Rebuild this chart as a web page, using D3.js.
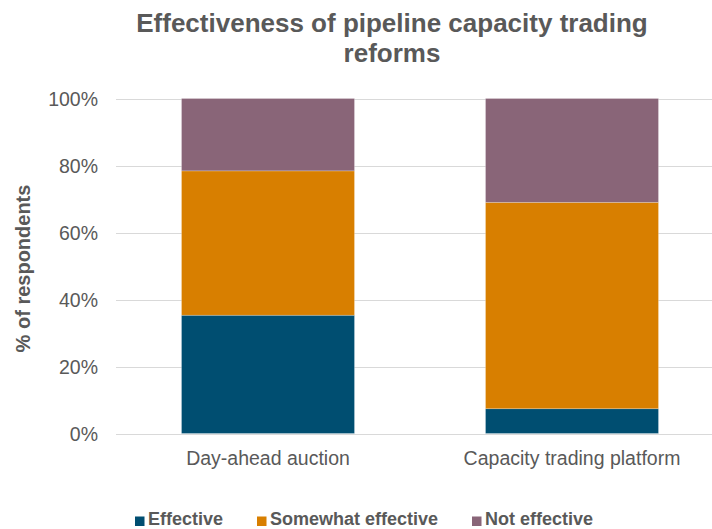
<!DOCTYPE html>
<html><head><meta charset="utf-8">
<script src="https://cdn.jsdelivr.net/npm/d3@7"></script>
<style>body{margin:0;background:#fff;}svg{display:block;font-family:"Liberation Sans",Arial,sans-serif;}</style>
</head><body>
<svg id="c" width="712" height="529"></svg>
<script>
const categories = ["Day-ahead auction", "Capacity trading platform"];
const seriesNames = ["Effective", "Somewhat effective", "Not effective"];
const effective = [0.353, 0.074];
const somewhat = [0.431, 0.616];
const notEffective = [0.216, 0.310];
const colors = ["#004e71", "#d87f00", "#896578"];
const yTicks = [0, 0.2, 0.4, 0.6, 0.8, 1.0];

const svg = d3.select("#c");
const x = d3.scaleBand().domain(categories).range([116, 724]).paddingInner(0.431).paddingOuter(0.2155);
const y = d3.scaleLinear().domain([0, 1]).range([433.5, 98.5]);

// gridlines
svg.append("g").selectAll("line").data(yTicks).join("line")
  .attr("x1", 116).attr("x2", 724)
  .attr("y1", d => Math.round(y(d)) + 0.5).attr("y2", d => Math.round(y(d)) + 0.5)
  .attr("stroke", "#d9d9d9").attr("stroke-width", 1);

const rows = categories.map((c, i) => ({cat: c, "Effective": effective[i], "Somewhat effective": somewhat[i], "Not effective": notEffective[i]}));
const stacked = d3.stack().keys(seriesNames)(rows);

svg.append("g").selectAll("g").data(stacked).join("g")
  .attr("fill", (d, i) => colors[i])
  .selectAll("rect").data(d => d).join("rect")
  .attr("x", d => x(d.data.cat))
  .attr("width", x.bandwidth())
  .attr("y", d => y(d[1]))
  .attr("height", d => y(d[0]) - y(d[1]))
  .attr("stroke", "#ffffff").attr("stroke-opacity", 0.3).attr("stroke-width", 0.75);

// y axis labels
const yAxis = d3.axisLeft(y).tickValues(yTicks).tickFormat(d3.format(".0%")).tickSize(0).tickPadding(0);
const ya = svg.append("g").attr("transform", "translate(98,0)").call(yAxis);
ya.select(".domain").remove();
ya.selectAll("text").attr("font-size", 19.5).attr("fill", "#595959").attr("font-family", "Liberation Sans, Arial, sans-serif").attr("dy", "0.36em");

// x axis labels
const xAxis = d3.axisBottom(x).tickSize(0).tickPadding(0);
const xa = svg.append("g").attr("transform", "translate(0,0)").call(xAxis);
xa.select(".domain").remove();
xa.selectAll("text").attr("y", 465).attr("dy", null).attr("font-size", 19.5).attr("fill", "#595959").attr("font-family", "Liberation Sans, Arial, sans-serif");

// y axis title
svg.append("text").attr("transform", "translate(29.5,268.5) rotate(-90)")
  .attr("text-anchor", "middle").attr("font-size", 20).attr("font-weight", "bold").attr("fill", "#595959")
  .text("% of respondents");

// title
const title = svg.append("text").attr("text-anchor", "middle").attr("font-size", 26).attr("font-weight", "bold").attr("fill", "#595959");
title.append("tspan").attr("x", 392).attr("y", 32).text("Effectiveness of pipeline capacity trading");
title.append("tspan").attr("x", 392).attr("y", 62).text("reforms");

// legend
const legendX = [135, 257, 472];
const lg = svg.append("g").selectAll("g").data(seriesNames).join("g")
  .attr("transform", (d, i) => `translate(${legendX[i]},0)`);
lg.append("rect").attr("x", 0).attr("y", 516.5).attr("width", 9.5).attr("height", 9.5).attr("fill", (d, i) => colors[i]);
lg.append("text").attr("x", 13).attr("y", 525).attr("font-size", 18).attr("font-weight", "bold").attr("fill", "#595959").text(d => d);
</script>
</body></html>
